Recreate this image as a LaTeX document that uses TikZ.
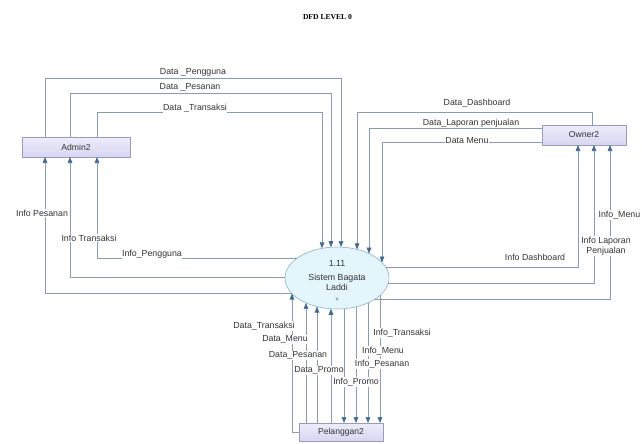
\documentclass[tikz,border=0pt]{standalone}
\usepackage{fontspec}
\setmainfont{Liberation Serif}
\setsansfont{Liberation Sans}
\usetikzlibrary{arrows.meta,shapes.geometric,calc}
\definecolor{linec}{HTML}{8A9BB5}
\definecolor{tipc}{HTML}{3F6A94}
\definecolor{boxb}{HTML}{9A9AC0}
\definecolor{boxf}{HTML}{D6D6F2}
\definecolor{ellb}{HTML}{8FAFCC}
\definecolor{ellf}{HTML}{E3F6FB}
\begin{document}
\begin{tikzpicture}[x=1pt,y=-1pt,
  ent/.style={draw=boxb, line width=0.6pt, top color=boxf!45!white, bottom color=boxf,
    rectangle, inner sep=0pt, outer sep=0pt, text=black!80,
    font=\sffamily\fontsize{8.6}{10}\selectfont},
  proc/.style={draw=ellb, line width=0.6pt, fill=ellf, ellipse, inner sep=0pt, outer sep=0pt,
    minimum width=104pt, minimum height=62pt},
  flow/.style={draw=linec, line width=0.6pt, -{Triangle[length=6pt,width=4.6pt,color=tipc]}},
  lbl/.style={fill=white, inner sep=0.6pt, text=black!80, font=\sffamily\fontsize{8.8}{10}\selectfont}
]
\useasboundingbox (0,0) rectangle (642,444);

\node (title) at (327.5,17) {\bfseries\fontsize{7.6}{9}\selectfont DFD LEVEL 0};

% entities and process
\node[ent, minimum width=108pt, minimum height=20pt] (admin) at (76,147) {Admin2};
\node[ent, minimum width=84pt, minimum height=20pt] (owner) at (584,135) {Owner2};
\node[ent, minimum width=84pt, minimum height=18pt] (pel) at (341,432) {Pelanggan2};
\node[proc] (sys) at (337,278) {};
\node[align=center, inner sep=0pt, text=black!80, font=\sffamily\fontsize{8.8}{10}\selectfont] (systxt) at (337,281)
  {1.11\\[4pt]Sistem Bagata\\Laddi\\[1pt]{\fontsize{6}{6}\selectfont +}};

% Admin -> system
\draw[flow] ($(admin.north west)+(23,0)$) |- (341,78) -- ($(sys.center)+(4,-30.9)$);
\draw[flow] ($(admin.north west)+(48,0)$) |- (331,93) -- ($(sys.center)+(-6,-30.8)$);
\draw[flow] ($(admin.north west)+(75,0)$) |- (322,112) -- ($(sys.center)+(-15,-29.7)$);
% system -> Admin
\draw[flow] ($(sys.center)+(-45.5,15)$) -| ($(admin.south west)+(23,0)$);
\draw[flow] ($(sys.center)+(-52,-1)$) -| ($(admin.south west)+(48,0)$);
\draw[flow] ($(sys.center)+(-39.7,-20)$) -| ($(admin.south west)+(75,0)$);

% Owner -> system
\draw[flow] ($(owner.north west)+(50,0)$) |- (357,112) -- ($(sys.center)+(20,-28.6)$);
\draw[flow] ($(owner.north west)+(0,3)$) -| ($(sys.center)+(32,-24.4)$);
\draw[flow] ($(owner.north west)+(0,17)$) -| ($(sys.center)+(45,-15.5)$);
% system -> Owner
\draw[flow] ($(sys.center)+(48.6,-11)$) -| ($(owner.south west)+(36,0)$);
\draw[flow] ($(sys.center)+(51.3,5)$) -| ($(owner.south west)+(52,0)$);
\draw[flow] ($(sys.center)+(38.2,21)$) -| ($(owner.south west)+(68,0)$);

% Pelanggan -> system
\draw[flow] (pel.west) -| ($(sys.center)+(-45,15.5)$);
\draw[flow] ($(pel.north west)+(7,0)$) -- ($(sys.center)+(-31,24.9)$);
\draw[flow] ($(pel.north west)+(18,0)$) -- ($(sys.center)+(-20,28.6)$);
\draw[flow] ($(pel.north west)+(32,0)$) -- ($(sys.center)+(-6,30.8)$);
% system -> Pelanggan
\draw[flow] ($(sys.center)+(7,30.7)$) -- ($(pel.north west)+(45,0)$);
\draw[flow] ($(sys.center)+(19,28.9)$) -- ($(pel.north west)+(57,0)$);
\draw[flow] ($(sys.center)+(31,24.9)$) -- ($(pel.north west)+(69,0)$);
\draw[flow] ($(sys.center)+(43,17.4)$) -- ($(pel.north west)+(81,0)$);

% labels - admin
\node[lbl] (l1) at (193,72) {Data \_Pengguna};
\node[lbl] (l2) at (190,87) {Data \_Pesanan};
\node[lbl] (l3) at (195,108) {Data \_Transaksi};
\node[lbl] (l4) at (42,213) {Info Pesanan};
\node[lbl] (l5) at (89,238) {Info Transaksi};
\node[lbl] (l6) at (152,254) {Info\_Pengguna};
% labels - owner
\node[lbl] (l7) at (477,103) {Data\_Dashboard};
\node[lbl] (l8) at (471,123) {Data\_Laporan penjualan};
\node[lbl] (l9) at (467,141) {Data Menu};
\node[lbl] (l10) at (535,257) {Info Dashboard};
\node[lbl, align=center] (l11) at (606,246) {Info Laporan\\Penjualan};
\node[lbl, anchor=east] (l12) at (641,215) {Info\_Menu};
% labels - pelanggan
\node[lbl] (l13) at (264,326) {Data\_Transaksi};
\node[lbl] (l14) at (285,339) {Data\_Menu};
\node[lbl] (l15) at (298,355) {Data\_Pesanan};
\node[lbl] (l16) at (319,370) {Data\_Promo};
\node[lbl] (l17) at (402,333) {Info\_Transaksi};
\node[lbl] (l18) at (383,351) {Info\_Menu};
\node[lbl] (l19) at (382,364) {Info\_Pesanan};
\node[lbl] (l20) at (356,382) {Info\_Promo};
\end{tikzpicture}
\end{document}
